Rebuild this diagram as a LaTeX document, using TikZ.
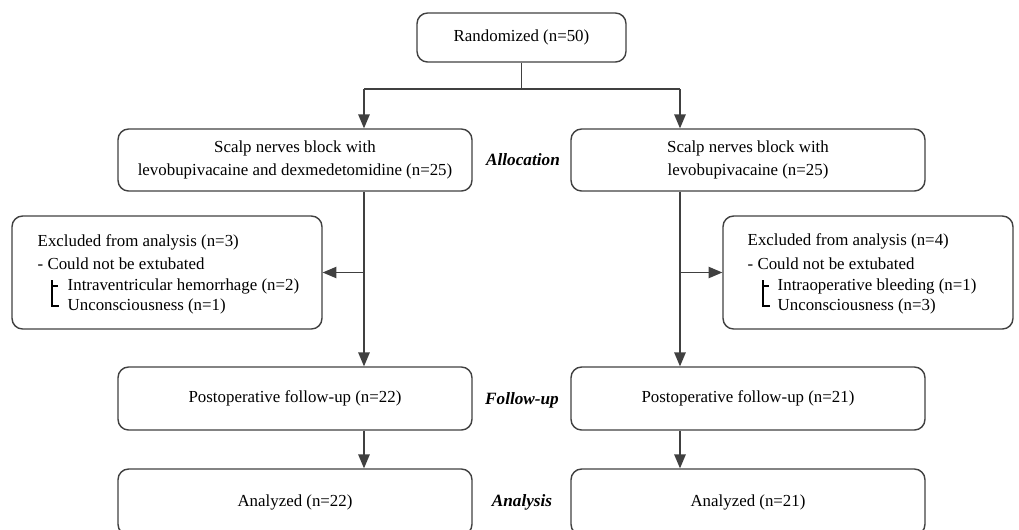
\documentclass[tikz,border=0pt]{standalone}
\usepackage{fontspec}
\setmainfont{Liberation Serif}
\usetikzlibrary{arrows}

\begin{document}
\begin{tikzpicture}[x=0.02cm,y=-0.02cm,>=triangle 45,line width=0.8pt,
        box node/.style={rectangle,rounded corners=6pt,draw=black!75,align=center,font=\fontsize{9.6}{13}\selectfont},
        item node/.style={anchor=west,inner sep=0pt,font=\fontsize{9.6}{12}\selectfont},
        stage node/.style={font=\fontsize{9.8}{12}\selectfont\bfseries\itshape}]

        \useasboundingbox (0,0) rectangle (1019,529);

        % boxes
        \node[box node,minimum width=4.18cm,minimum height=0.98cm] (rand) at (521.5,37.5) {Randomized (n=50)};
        \node[box node,minimum width=7.08cm,minimum height=1.24cm] (allocL) at (295,160) {Scalp nerves block with\\levobupivacaine and dexmedetomidine (n=25)};
        \node[box node,minimum width=7.08cm,minimum height=1.24cm] (allocR) at (748,160) {Scalp nerves block with\\levobupivacaine (n=25)};
        \node[box node,minimum width=6.2cm,minimum height=2.26cm] (exclL) at (167,272.5) {};
        \node[box node,minimum width=5.8cm,minimum height=2.26cm] (exclR) at (868,272.5) {};
        \node[box node,minimum width=7.08cm,minimum height=1.26cm] (fupL) at (295,398.5) {Postoperative follow-up (n=22)};
        \node[box node,minimum width=7.08cm,minimum height=1.26cm] (fupR) at (748,398.5) {Postoperative follow-up (n=21)};
        \node[box node,minimum width=7.08cm,minimum height=1.32cm] (analL) at (295,502) {Analyzed (n=22)};
        \node[box node,minimum width=7.08cm,minimum height=1.32cm] (analR) at (748,502) {Analyzed (n=21)};

        % stages
        \node[stage node] (alloc) at (523,160) {Allocation};
        \node[stage node] (fup) at (522,400) {Follow-up};
        \node[stage node] (anal) at (522,502) {Analysis};

        % excluded, left
        \node[item node] (exclLt) at (37,242) {Excluded from analysis (n=3)};
        \node[item node] (exclLa) at (37,264) {- Could not be extubated};
        \node[item node] (exclLb) at (67,286) {Intraventricular hemorrhage (n=2)};
        \node[item node] (exclLc) at (67,306) {Unconsciousness (n=1)};
        \draw[line width=0.6pt] ([shift={(-15,-6)}]exclLb.west) |- ([shift={(-8,0)}]exclLc.west);
        \draw[line width=0.6pt] ([shift={(-15,0)}]exclLb.west) -- ([shift={(-9,0)}]exclLb.west);

        % excluded, right
        \node[item node] (exclRt) at (747,241) {Excluded from analysis (n=4)};
        \node[item node] (exclRa) at (747,264) {- Could not be extubated};
        \node[item node] (exclRb) at (777,286) {Intraoperative bleeding (n=1)};
        \node[item node] (exclRc) at (777,306) {Unconsciousness (n=3)};
        \draw[line width=0.6pt] ([shift={(-14,-6)}]exclRb.west) |- ([shift={(-7,0)}]exclRc.west);
        \draw[line width=0.6pt] ([shift={(-14,0)}]exclRb.west) -- ([shift={(-8,0)}]exclRb.west);

        % connectors
        \coordinate (colL) at (364,89);
        \coordinate (colR) at (680,89);
        \draw[black!75] (rand) -- (rand |- colL);
        \draw[black!75] (colL) -- (colR);
        \path[->,black!75]
        (colL) edge (colL |- allocL.north)
        (colR) edge (colR |- allocR.north)
        (colL |- allocL.south) edge (colL |- fupL.north)
        (colR |- allocR.south) edge (colR |- fupR.north)
        (colL |- exclL.east) edge (exclL.east)
        (colR |- exclR.west) edge (exclR.west)
        (colL |- fupL.south) edge (colL |- analL.north)
        (colR |- fupR.south) edge (colR |- analR.north);
      \end{tikzpicture}
\end{document}
